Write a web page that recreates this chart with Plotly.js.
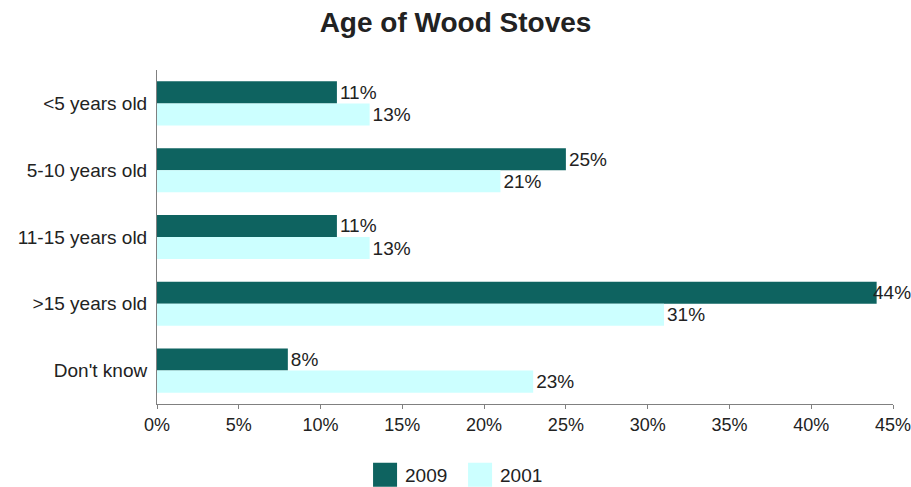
<!DOCTYPE html>
<html><head><meta charset="utf-8">
<script src="https://cdn.plot.ly/plotly-3.0.1.min.js"></script>
<style>
html,body{margin:0;padding:0;background:#fff}
.legendpoints path{transform:translate(20px,0) scale(2)}
</style>
</head><body>
<div id="chart" style="width:911px;height:487px"></div>
<script>
const categories = ["<5 years old", "5-10 years old", "11-15 years old", ">15 years old", "Don't know"];
const values2009 = [11, 25, 11, 44, 8];
const values2001 = [13, 21, 13, 31, 23];
const tickVals = [0, 5, 10, 15, 20, 25, 30, 35, 40, 45];
const tickText = ["0%", "5%", "10%", "15%", "20%", "25%", "30%", "35%", "40%", "45%"];
const xMax = 45;

const fnt = {family: "Liberation Sans, Arial, sans-serif", size: 19, color: "#222"};
// labels that would run past the right edge are drawn as annotations overlapping the bar end
const near = v => v > xMax - 3;
const annotations = [];
values2009.forEach((v, i) => { if (near(v)) annotations.push({x: v, y: categories[i], xref: "x", yref: "y",
  text: v + "%", showarrow: false, xanchor: "left", xshift: -6, yshift: 11, font: fnt}); });
values2001.forEach((v, i) => { if (near(v)) annotations.push({x: v, y: categories[i], xref: "x", yref: "y",
  text: v + "%", showarrow: false, xanchor: "left", xshift: -6, yshift: -11, font: fnt}); });

const traces = [
  {type: "bar", orientation: "h", name: "2009", y: categories, x: values2009,
   marker: {color: "#0e6360"}, text: values2009.map(v => near(v) ? "" : v + "%"), textposition: "outside",
   textfont: fnt, cliponaxis: false, constraintext: "none", hoverinfo: "none"},
  {type: "bar", orientation: "h", name: "2001", y: categories, x: values2001,
   marker: {color: "#ccffff"}, text: values2001.map(v => near(v) ? "" : v + "%"), textposition: "outside",
   textfont: fnt, cliponaxis: false, constraintext: "none", hoverinfo: "none"}
];
const layout = {
  width: 911, height: 487,
  margin: {l: 157, r: 18, t: 70, b: 83},
  paper_bgcolor: "#fff", plot_bgcolor: "#fff",
  title: {text: "<b>Age of Wood Stoves</b>", x: 0.5, xanchor: "center", y: 0.955, yanchor: "middle",
          font: {family: "Liberation Sans, Arial, sans-serif", size: 28, color: "#222"}},
  barmode: "group", bargap: 0.34, bargroupgap: 0,
  font: fnt,
  annotations: annotations,
  xaxis: {range: [0, xMax], tickvals: tickVals, ticktext: tickText, showgrid: false, zeroline: false,
          showline: true, linecolor: "#808080", linewidth: 1, ticks: "outside", ticklen: 4, tickcolor: "#808080",
          tickfont: {family: fnt.family, size: 18, color: fnt.color}, ticklabeloverflow: "allow", fixedrange: true},
  yaxis: {autorange: "reversed", showgrid: false, zeroline: false, showline: true, linecolor: "#808080",
          linewidth: 1, ticks: "", ticklabelstandoff: 5, tickfont: fnt, fixedrange: true},
  showlegend: true,
  legend: {orientation: "h", xref: "container", x: 0.505, xanchor: "center", yref: "container", y: 0.025, yanchor: "middle",
           font: fnt, entrywidth: 50, entrywidthmode: "pixels", traceorder: "normal"}
};
Plotly.newPlot("chart", traces, layout, {displayModeBar: false, staticPlot: true});
</script>
</body></html>
